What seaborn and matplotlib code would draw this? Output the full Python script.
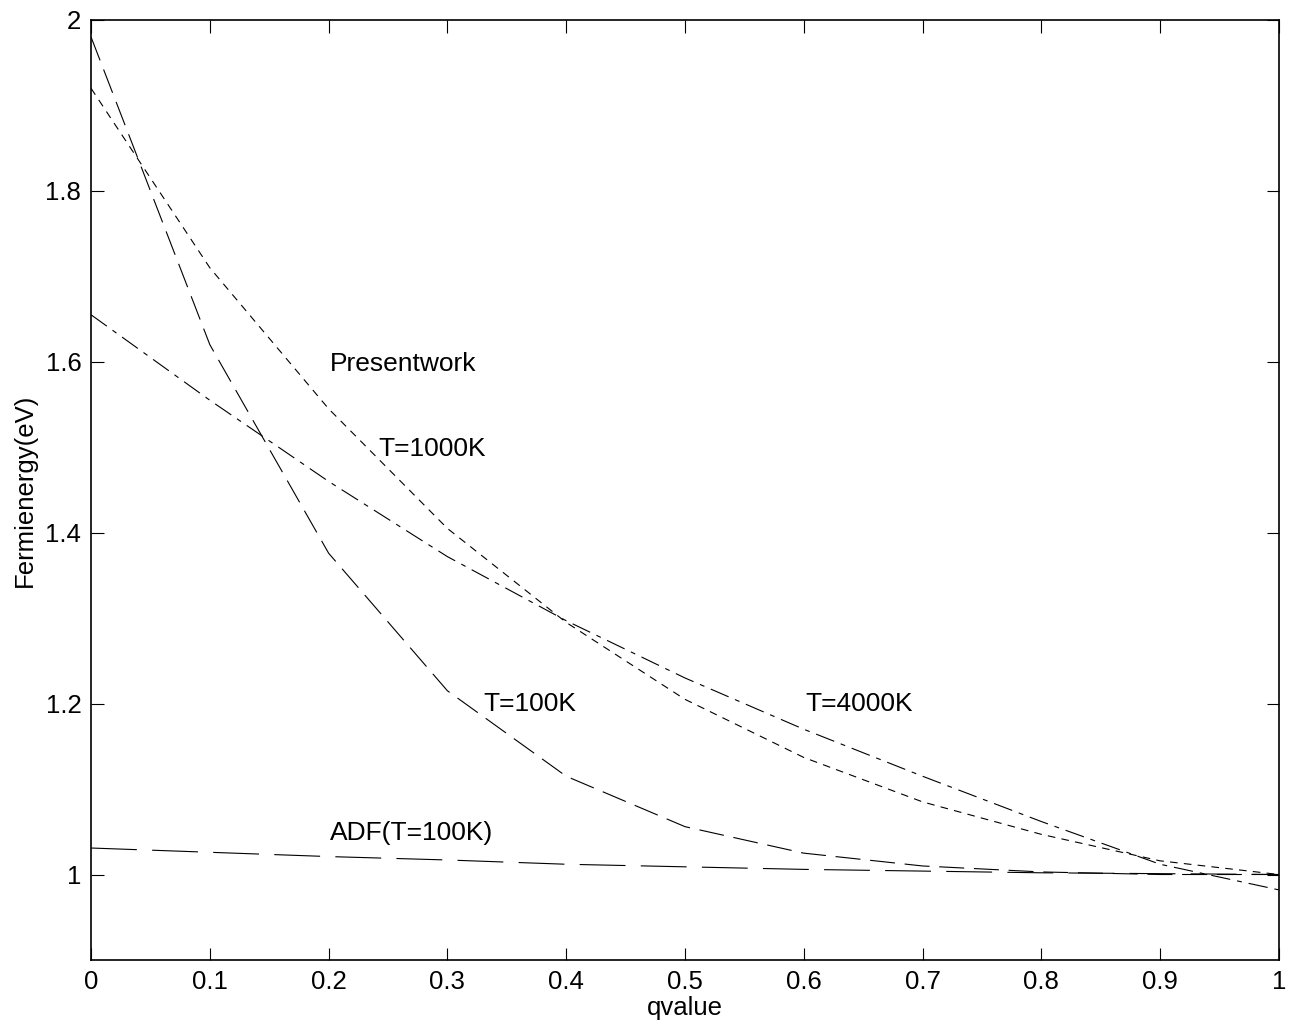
import pandas as pd
import numpy as np
import seaborn as sns
import matplotlib
matplotlib.use('Agg')
import matplotlib.pyplot as plt

sns.set_theme(style="white")
plt.rcParams['font.family'] = ['Liberation Sans', 'DejaVu Sans']
plt.rcParams['lines.scale_dashes'] = False
plt.rcParams['text.color'] = 'black'

# data
q = [0.0, 0.1, 0.2, 0.3, 0.4, 0.5, 0.6, 0.7, 0.8, 0.9, 1.0]
t100 = [1.98, 1.62, 1.376, 1.215, 1.115, 1.056, 1.025, 1.010, 1.003, 1.000, 1.000]
t1000 = [1.92, 1.71, 1.545, 1.405, 1.295, 1.205, 1.137, 1.085, 1.047, 1.016, 1.000]
t4000 = [1.655, 1.555, 1.460, 1.372, 1.297, 1.230, 1.170, 1.115, 1.062, 1.012, 0.982]
adf = [1.031, 1.026, 1.021, 1.017, 1.012, 1.009, 1.006, 1.004, 1.002, 1.001, 1.000]

series = {'T=100K': t100, 'T=1000K': t1000, 'T=4000K': t4000, 'ADF': adf}
df = pd.concat([pd.DataFrame({'q': q, 'E': v, 'curve': k}) for k, v in series.items()])

dash_map = {
    'T=100K': (18, 7),
    'T=1000K': (5.5, 4.5),
    'T=4000K': (14, 5, 3.5, 5),
    'ADF': (33, 11),
}
pal = {k: 'black' for k in series}

fig = plt.figure(figsize=(13.01, 10.36), dpi=100)
ax = fig.add_axes([0.07, 0.0734, 0.913, 0.9073])
sns.lineplot(data=df, x='q', y='E', hue='curve', style='curve', palette=pal,
             dashes=dash_map, linewidth=0.8, legend=False, ax=ax)

ax.set_xlim(0, 1)
ax.set_ylim(0.9, 2)
ax.set_xticks(np.round(np.arange(0, 1.01, 0.1), 1))
ax.set_xticklabels(['0', '0.1', '0.2', '0.3', '0.4', '0.5', '0.6', '0.7', '0.8', '0.9', '1'])
ax.set_yticks([1.0, 1.2, 1.4, 1.6, 1.8, 2.0])
ax.set_yticklabels(['1', '1.2', '1.4', '1.6', '1.8', '2'])
ax.tick_params(direction='in', length=9, width=0.8, top=True, right=True,
               bottom=True, left=True, labelsize=18.5, colors='black', pad=7)
for s in ax.spines.values():
    s.set_color('black')
    s.set_linewidth(1.2)
ax.set_xlabel('qvalue', fontsize=18.5, color='black', labelpad=2)
ax.set_ylabel('Fermienergy(eV)', fontsize=18.5, color='black', labelpad=6)

ax.text(0.201, 1.598, 'Presentwork', fontsize=19, va='center', color='black')
ax.text(0.242, 1.498, 'T=1000K', fontsize=19, va='center', color='black')
ax.text(0.330, 1.200, 'T=100K', fontsize=19, va='center', color='black')
ax.text(0.601, 1.200, 'T=4000K', fontsize=19, va='center', color='black')
ax.text(0.201, 1.049, 'ADF(T=100K)', fontsize=19, va='center', color='black')

fig.savefig('out.png', dpi=100, facecolor='white')
